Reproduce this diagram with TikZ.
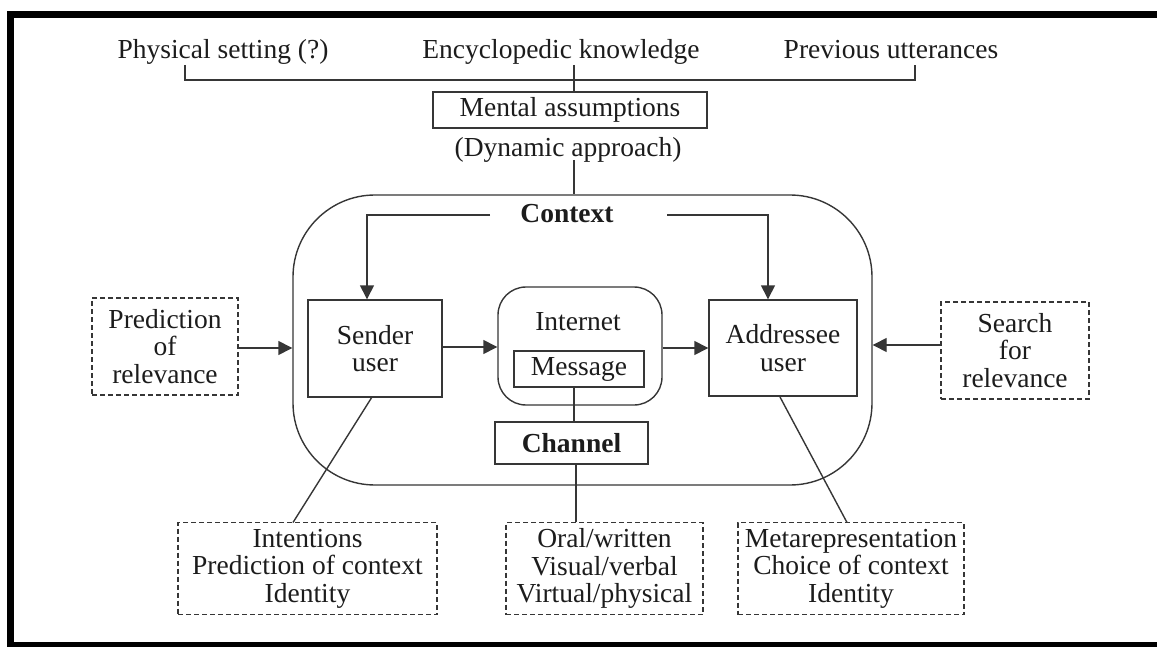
\documentclass[tikz,border=0pt]{standalone}
\usepackage{fontspec}
\setmainfont{Liberation Serif}
\usetikzlibrary{arrows.meta,calc}
\definecolor{ln}{HTML}{363636}
\definecolor{tx}{HTML}{1C1C1C}
\begin{document}
\begin{tikzpicture}[x=1pt,y=-1pt,
  every node/.style={text=tx,font=\fontsize{27.5}{27.5}\selectfont},
  lbl/.style={anchor=base,inner sep=0pt},
  solidbox/.style={draw=ln,line width=1.4pt,inner sep=0pt,align=center},
  dashbox/.style={draw=ln,line width=1.4pt,inner sep=0pt,align=center,dash pattern=on 5pt off 3pt},
  conn/.style={draw=ln,line width=1.4pt},
  arr/.style={conn,-{Triangle[length=14pt,width=14pt]}}]
\useasboundingbox (0,0) rectangle (1157,647);
% frame
\fill[black] (7,11) rectangle (1157,18);
\fill[black] (7,11) rectangle (14,647);
\fill[black] (7,642) rectangle (1157,647);
% top texts
\node[lbl] (phys) at (223,59) {Physical setting (?)};
\node[lbl] (ency) at (561,59) {Encyclopedic knowledge};
\node[lbl] (prev) at (891,59) {Previous utterances};
\coordinate (bl) at (185,65);
\coordinate (br) at (915,65);
\coordinate (bm) at (574,65);
\draw[conn] (bl) -- (185,80) -- (915,80) -- (br);
% mental assumptions
\node[solidbox,minimum width=274pt,minimum height=36pt] (mental) at (570,110) {Mental assumptions};
\draw[conn] (bm) -- (bm |- mental.north);
\node[lbl] (dyn) at (568,157) {(Dynamic approach)};
% context
\node[draw=ln,line width=1.4pt,rounded corners=82pt,minimum width=579pt,minimum height=290pt,inner sep=0pt] (ctx) at (582.5,340) {};
\coordinate (dynb) at (574,160);
\draw[conn] (dynb) -- (dynb |- ctx.north);
\node[lbl,font=\fontsize{27.5}{27.5}\selectfont\bfseries] (ctxl) at (567,223) {Context};
% boxes
\node[solidbox,minimum width=134pt,minimum height=97pt] (sender) at (375,348.5) {Sender\\user};
\node[draw=ln,line width=1.4pt,rounded corners=28pt,minimum width=164pt,minimum height=118pt,inner sep=0pt] (inet) at (580,346) {};
\node[lbl] (inetl) at (578,330) {Internet};
\node[solidbox,minimum width=130pt,minimum height=36pt] (msg) at (579,369) {Message};
\node[solidbox,minimum width=153pt,minimum height=42pt,font=\fontsize{27.5}{27.5}\selectfont\bfseries] (chan) at (571.5,443) {Channel};
\node[solidbox,minimum width=148pt,minimum height=96pt] (addr) at (783,348) {Addressee\\user};
\node[dashbox,minimum width=146pt,minimum height=97pt] (pred) at (165,346.5) {Prediction\\of\\relevance};
\node[dashbox,minimum width=148pt,minimum height=97pt] (search) at (1015,350.5) {Search\\for\\relevance};
\node[dashbox,minimum width=259pt,minimum height=92pt] (intent) at (307.5,568.5) {Intentions\\Prediction of context\\Identity};
\node[dashbox,minimum width=197pt,minimum height=92pt] (oral) at (604.5,568.5) {Oral/written\\Visual/verbal\\Virtual/physical};
\node[dashbox,minimum width=226pt,minimum height=92pt] (meta) at (851,568.5) {Metarepresentation\\Choice of context\\Identity};
% helper coordinates
\coordinate (cl) at (490,215);
\coordinate (cr) at (667,215);
\coordinate (sl) at (367,215);
\coordinate (sr) at (768,215);
\coordinate (y348) at (0,348);
\coordinate (y345) at (0,345);
\coordinate (y347) at (0,347);
% context arrows
\draw[arr] (cl) -- (sl) -- (sl |- sender.north);
\draw[arr] (cr) -- (sr) -- (sr |- addr.north);
% horizontal arrows
\draw[arr] (pred.east |- y348) -- (ctx.west |- y348);
\draw[arr] (search.west |- y345) -- (ctx.east |- y345);
\draw[arr] (sender.east |- y347) -- (inet.west |- y347);
\draw[arr] (inet.east |- y348) -- (addr.west |- y348);
% vertical links
\coordinate (mb) at (574,387);
\coordinate (cb) at (576,464);
\coordinate (sb) at (372,397);
\coordinate (ab) at (780,397);
\coordinate (it) at (293,522.5);
\coordinate (mt) at (847,522.5);
\draw[conn] (mb) -- (mb |- chan.north);
\draw[conn] (cb) -- (cb |- oral.north);
\draw[conn] (sb) -- (it);
\draw[conn] (ab) -- (mt);
\end{tikzpicture}
\end{document}
